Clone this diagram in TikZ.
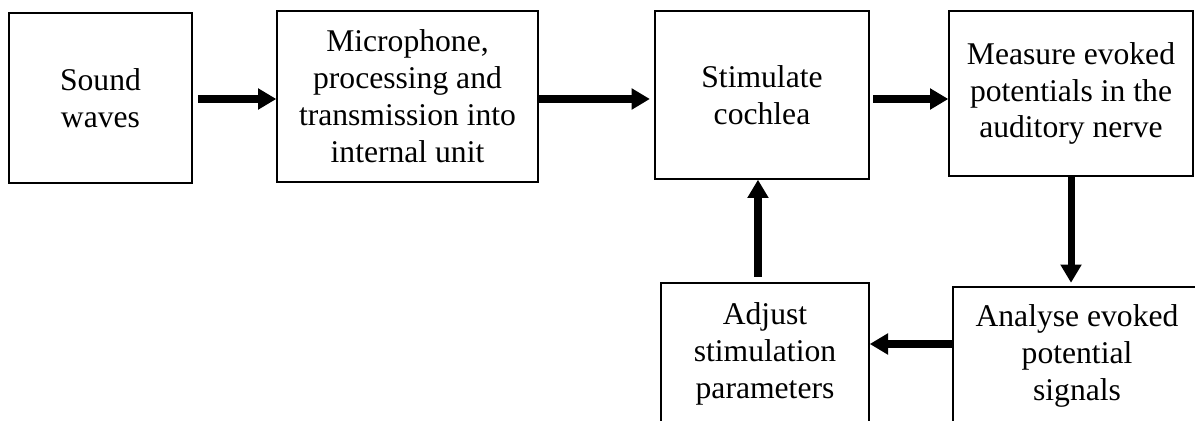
\documentclass[tikz,border=0pt]{standalone}
\usepackage{fontspec}
\setmainfont{Liberation Serif}
\usepackage{tikz}
\usetikzlibrary{arrows.meta, positioning, calc}

\begin{document}
\begin{tikzpicture}[x=0.02cm, y=-0.02cm, font=\fontsize{18}{21}\selectfont,
    block/.style={draw, line width=0.85pt, align=center, inner sep=0pt},
    flow/.style={line width=4pt, -{Triangle[length=10.4pt, width=11.5pt]}}]
\clip (0,0) rectangle (1195,421);

% Top row
\node[block, minimum width=104pt, minimum height=96.7pt] (sound) at (100.5,98) {Sound\\waves};
\node[block, minimum width=148.5pt, minimum height=97.3pt] (micro) at (407.5,96.5) {Microphone,\\processing and\\transmission into\\internal unit};
\node[block, minimum width=121.8pt, minimum height=95.6pt] (cochlea) at (762,95) {Stimulate\\cochlea};
\node[block, minimum width=138.8pt, minimum height=93.9pt] (measure) at (1071,93.5) {Measure evoked\\potentials in the\\auditory nerve};

% Bottom row (runs off the page)
\node[block, minimum width=141.1pt, minimum height=78.5pt] (analyse) at (1077,356) {Analyse evoked\\potential\\signals};
\node[block, minimum width=118.4pt, minimum height=80.8pt] (adjust) at (765,354) {Adjust\\stimulation\\parameters};

% Arrows
\coordinate (lane) at (0,99);
\coordinate (back) at (0,344);
\draw[flow, shorten <=3pt] (sound.east |- lane) -- (micro.west |- lane);
\draw[flow, shorten >=2.5pt] (micro.east |- lane) -- (cochlea.west |- lane);
\draw[flow, shorten <=2pt] (cochlea.east |- lane) -- (measure.west |- lane);
\draw[flow, shorten >=2pt] (measure.south) -- (measure.south |- analyse.north);
\draw[flow] (analyse.west |- back) -- (adjust.east |- back);
\draw[flow, shorten <=3pt] ([xshift=-4pt]adjust.north) -- ([xshift=-4pt]adjust.north |- cochlea.south);
\end{tikzpicture}
\end{document}
